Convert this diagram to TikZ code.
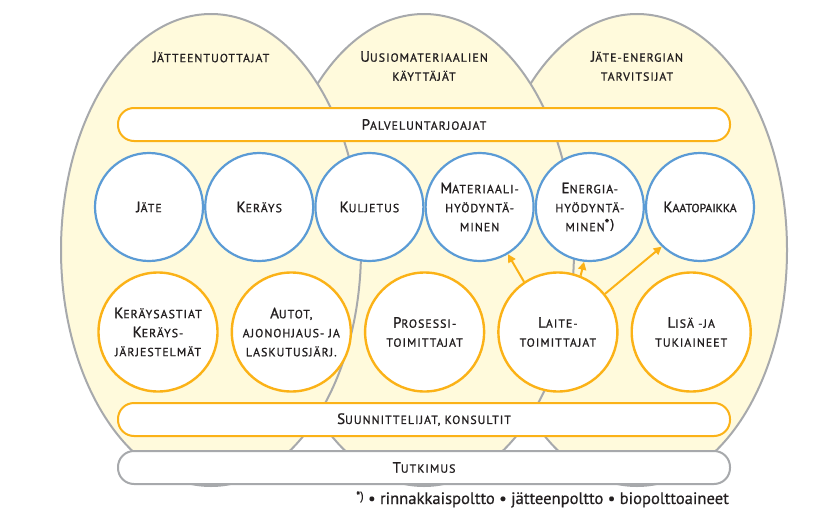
\documentclass[tikz,border=0pt]{standalone}
\usepackage{fontspec}
\setmainfont{PT Sans}
\newfontfamily\scfont{PT Sans}[LetterSpace=9, FakeBold=1.1]
\newfontfamily\sctight{PT Sans}[LetterSpace=0, FakeBold=1.1]
\newfontfamily\fnfont{PT Sans}[FakeBold=0.5]
\usetikzlibrary{arrows.meta}
\definecolor{egg}{HTML}{FFFADC}
\definecolor{eggline}{HTML}{A7A9AC}
\definecolor{cblue}{HTML}{5B9BD5}
\definecolor{corange}{HTML}{FBB217}
\definecolor{ink}{HTML}{231F20}
\newcommand\C[1]{{\fontsize{15}{19}\selectfont #1}}
\tikzset{
  lbl/.style={font=\scfont\fontsize{11.8}{19}\selectfont, text=ink, align=center},
  egg/.style={draw=eggline, fill=egg, line width=2pt},
  pill/.style={lbl, rounded corners=16pt, minimum width=612pt, minimum height=33pt, fill=white, line width=2pt, inner sep=0pt},
  bluec/.style={lbl, circle, draw=cblue, fill=white, line width=2.2pt, minimum size=108pt, inner sep=0pt},
  orc/.style={lbl, circle, draw=corange, fill=white, line width=2.4pt, minimum size=119pt, inner sep=0pt},
  arr/.style={draw=corange, line width=2pt, -{Triangle[length=8pt,width=8pt]}}
}
\begin{document}
\begin{tikzpicture}[x=1pt,y=-1pt]
\useasboundingbox (0,0) rectangle (830,522);
% background ellipses (right, middle, left)
\path[egg] (637,250) ellipse [x radius=150pt, y radius=236pt];
\path[egg] (424,250) ellipse [x radius=150pt, y radius=236pt];
\path[egg] (211,250) ellipse [x radius=150pt, y radius=236pt];
% titles
\node[lbl] (t1) at (211,57) {\C{J}ÄTTEENTUOTTAJAT};
\node[lbl] (t2) at (424,66) {\C{U}USIOMATERIAALIEN\\KÄYTTÄJÄT};
\node[lbl] (t3) at (637,66) {\C{J}ÄTE-ENERGIAN\\TARVITSIJAT};
% bars
\node[pill, draw=corange] (palv) at (424,124.5) {\C{P}ALVELUNTARJOAJAT};
\node[pill, draw=corange] (suun) at (424,419.5) {\C{S}UUNNITTELIJAT, KONSULTIT};
\node[pill, draw=eggline] (tutk) at (424,467.5) {\C{T}UTKIMUS};
% blue circles
\node[bluec] (jate) at (149,207) {\C{J}ÄTE};
\node[bluec] (keray) at (259.2,207) {\C{K}ERÄYS};
\node[bluec] (kulj) at (369.4,207) {\C{K}ULJETUS};
\node[bluec] (mat) at (479.6,207) {\C{M}ATERIAALI-\\HYÖDYNTÄ-\\MINEN};
\node[bluec] (ene) at (589.8,207) {\C{E}NERGIA-\\HYÖDYNTÄ-\\MINEN{\fontsize{13}{19}\selectfont\raisebox{3pt}{*)}}};
\node[bluec, font=\sctight\fontsize{11.8}{19}\selectfont] (kaato) at (700,207) {\C{K}AATOPAIKKA};
% orange circles
\node[orc] (astiat) at (158,332) {\C{K}ERÄYSASTIAT\\\C{K}ERÄYS-\\JÄRJESTELMÄT};
\node[orc] (autot) at (291.3,332) {\C{A}UTOT,\\AJONOHJAUS- JA\\LASKUTUSJÄRJ.};
\node[orc] (pros) at (424.6,332) {\C{P}ROSESSI-\\TOIMITTAJAT};
\node[orc] (laite) at (557.9,332) {\C{L}AITE-\\TOIMITTAJAT};
\node[orc] (lisa) at (691.2,332) {\C{L}ISÄ -JA\\TUKIAINEET};
% arrows
\draw[arr] (laite.124) -- (mat.301);
\draw[arr] (laite.68) -- (ene.264);
\draw[arr] (laite.39) -- (kaato.226);
% footnote
\node[anchor=base east, font=\fnfont\fontsize{16.6}{18}\selectfont, text=ink, inner sep=0pt] (fn) at (729,504) {\raisebox{4pt}{\fontsize{12}{12}\selectfont *)} • rinnakkaispoltto • jätteenpoltto • biopolttoaineet};
\end{tikzpicture}
\end{document}
